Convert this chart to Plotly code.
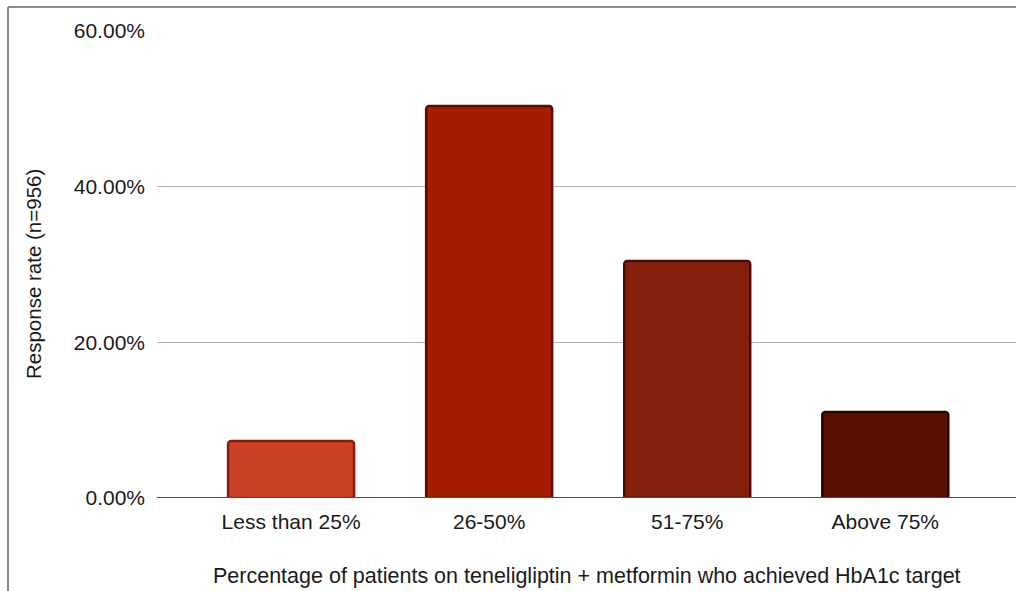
import plotly.graph_objects as go

categories = ["Less than 25%", "26-50%", "51-75%", "Above 75%"]
values = [7.32, 50.35, 30.45, 11.05]
bar_colors = ["#cc4125", "#a61c00", "#85200c", "#5b0f00"]
edge_colors = ["#8a1a08", "#5e0c00", "#4a0c02", "#2a0500"]
y_ticks = [0, 20, 40, 60]
y_tick_labels = ["0.00%", "20.00%", "40.00%", "60.00%"]
x_title = "Percentage of patients on teneligliptin + metformin who achieved HbA1c target"
y_title = "Response rate (n=956)"

W, H = 1016, 591
L, R, T, B = 157, 0, 31, 93
pw, ph = W - L - R, H - T - B

fig = go.Figure()
fig.add_trace(go.Bar(
    x=list(range(len(categories))), y=values,
    marker=dict(color=bar_colors, line=dict(color=edge_colors, width=2.5)),
    width=0.636,
))

FONT = "Liberation Sans, Arial, sans-serif"
FS = 21

fig.update_layout(
    width=W, height=H,
    margin=dict(l=L, r=R, t=T, b=B, pad=0),
    paper_bgcolor="white", plot_bgcolor="white",
    showlegend=False,
    barcornerradius=3,
    font=dict(family=FONT, size=FS, color="#1a1a1a"),
    xaxis=dict(
        range=[-0.677, 3.66],
        tickmode="array", tickvals=list(range(len(categories))), ticktext=categories,
        showgrid=False, zeroline=False, showline=False, ticks="",
        tickfont=dict(size=FS, color="#1a1a1a"), ticklabelstandoff=9,
    ),
    yaxis=dict(
        range=[0, 60], tickmode="array", tickvals=y_ticks, ticktext=y_tick_labels,
        showgrid=True, gridcolor="#b3b3b3", gridwidth=1,
        zeroline=False, showline=False, ticks="",
        tickfont=dict(size=FS, color="#1a1a1a"), ticklabelstandoff=11,
    ),
)

# zero baseline
fig.add_shape(type="line", xref="paper", yref="y", x0=0, x1=1, y0=0, y1=0,
              line=dict(color="#4d4d4d", width=2), layer="above")

# outer frame (left and top borders)
bx = (8 - L) / pw
by = (H - B - 7) / ph
fig.add_shape(type="line", xref="paper", yref="paper", x0=bx, x1=bx, y0=by, y1=-0.3,
              line=dict(color="#666666", width=1.5))
fig.add_shape(type="line", xref="paper", yref="paper", x0=bx, x1=1.05, y0=by, y1=by,
              line=dict(color="#666666", width=1.5))

# axis titles
fig.add_annotation(text=x_title, xref="paper", yref="paper",
                   x=(587 - L) / pw, y=(H - B - 576) / ph,
                   showarrow=False, font=dict(size=21.5, color="#1a1a1a"),
                   xanchor="center", yanchor="middle")
fig.add_annotation(text=y_title, xref="paper", yref="paper",
                   x=(33 - L) / pw, y=(H - B - 274) / ph, textangle=-90,
                   showarrow=False, font=dict(size=20.5, color="#1a1a1a"),
                   xanchor="center", yanchor="middle")

fig.write_html("out.html")
